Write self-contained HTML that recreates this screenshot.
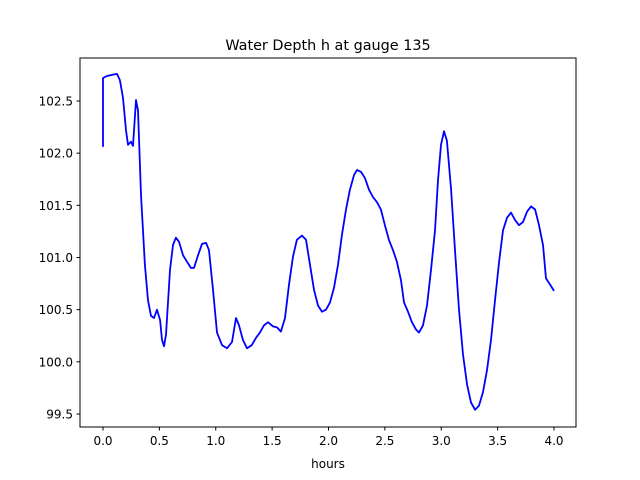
<!DOCTYPE html>
<html><head><meta charset="utf-8"><style>
body{margin:0;background:#fff;}
svg{display:block;font-family:"DejaVu Sans","Liberation Sans",sans-serif;}
</style></head><body>
<svg id="chart" width="640" height="480">
<rect width="640" height="480" fill="#fff"/>
<text x="328" y="50" text-anchor="middle" font-size="14.4">Water Depth h at gauge 135</text>
<text x="328" y="468" text-anchor="middle" font-size="12">hours</text>
<g id="ticks"></g>
<path id="line" fill="none" stroke="#0000ff" stroke-width="1.8" stroke-linejoin="round"/>
<rect x="80" y="58" width="496" height="369" fill="none" stroke="#000" stroke-width="1"/>
</svg>
<script>
const hours=[0,0,0.035,0.08,0.124,0.15,0.177,0.204,0.222,0.248,0.266,0.293,0.31,0.337,0.372,0.399,0.426,0.452,0.479,0.506,0.523,0.541,0.559,0.594,0.621,0.647,0.674,0.71,0.745,0.78,0.807,0.843,0.878,0.914,0.94,0.976,1.011,1.055,1.10,1.144,1.18,1.206,1.241,1.277,1.32,1.357,1.392,1.428,1.463,1.508,1.543,1.578,1.614,1.65,1.685,1.72,1.765,1.80,1.836,1.871,1.907,1.942,1.978,2.013,2.049,2.084,2.12,2.155,2.19,2.226,2.253,2.288,2.324,2.359,2.394,2.43,2.465,2.50,2.536,2.572,2.607,2.643,2.67,2.705,2.74,2.776,2.803,2.838,2.874,2.909,2.945,2.971,2.998,3.024,3.05,3.087,3.122,3.157,3.193,3.229,3.264,3.30,3.335,3.37,3.406,3.441,3.477,3.512,3.548,3.583,3.619,3.654,3.69,3.725,3.761,3.796,3.832,3.867,3.902,3.929,3.965,4.0];
const depth=[102.06,102.72,102.74,102.75,102.76,102.70,102.53,102.22,102.08,102.11,102.07,102.51,102.41,101.60,100.93,100.59,100.44,100.42,100.50,100.40,100.21,100.15,100.26,100.88,101.12,101.19,101.15,101.02,100.96,100.90,100.90,101.02,101.13,101.14,101.07,100.69,100.28,100.16,100.13,100.19,100.42,100.35,100.21,100.13,100.16,100.23,100.28,100.35,100.38,100.34,100.33,100.29,100.42,100.74,101.01,101.17,101.21,101.17,100.93,100.69,100.54,100.48,100.50,100.57,100.71,100.93,101.22,101.46,101.65,101.79,101.84,101.82,101.76,101.65,101.58,101.53,101.46,101.31,101.17,101.07,100.96,100.78,100.57,100.48,100.38,100.31,100.28,100.35,100.54,100.88,101.26,101.74,102.08,102.21,102.12,101.65,101.07,100.50,100.07,99.78,99.61,99.54,99.58,99.71,99.92,100.21,100.59,100.95,101.26,101.38,101.43,101.36,101.31,101.34,101.44,101.49,101.46,101.31,101.12,100.80,100.74,100.68];
const xTicks=[0,0.5,1,1.5,2,2.5,3,3.5,4];
const yTicks=[99.5,100,100.5,101,101.5,102,102.5];
const X=v=>103+v*112.75;
const Y=v=>101+(102.5-v)*104.33;
const ns="http://www.w3.org/2000/svg";
const g=document.getElementById('ticks');
function mk(t,a){const e=document.createElementNS(ns,t);for(const k in a)e.setAttribute(k,a[k]);g.appendChild(e);return e;}
xTicks.forEach(v=>{
 const l=mk('line',{x1:X(v),x2:X(v),y1:427,y2:430.5,stroke:'#000'});
 
 
 const t=mk('text',{x:X(v),y:445,'text-anchor':'middle','font-size':12});
 t.textContent=v.toFixed(1);
 
 
});
yTicks.forEach(v=>{
 const l=mk('line',{x1:76.5,x2:80,y1:Y(v),y2:Y(v),stroke:'#000'});
 
 
 const t=mk('text',{x:73,y:Y(v)+4.5,'text-anchor':'end','font-size':12});
 t.textContent=v.toFixed(1);
 
 
});
document.getElementById('line').setAttribute('d',hours.map((h,i)=>(i?'L':'M')+X(h).toFixed(1)+','+Y(depth[i]).toFixed(1)).join(''));
</script>
</body></html>
